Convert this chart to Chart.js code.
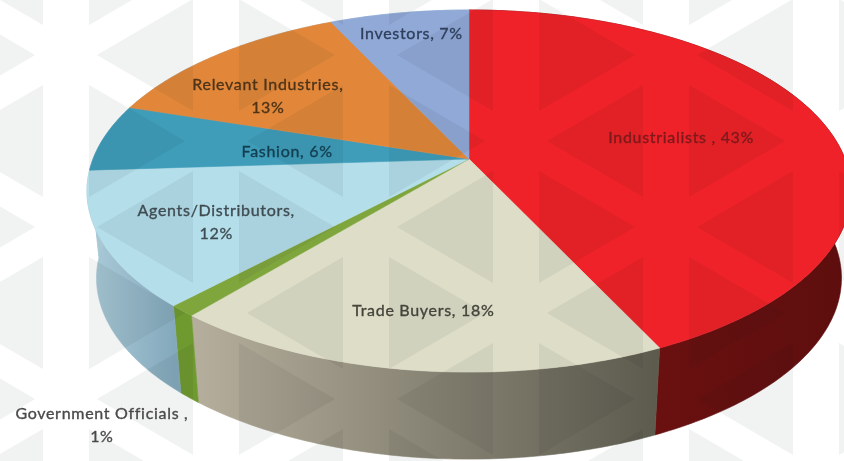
<!DOCTYPE html>
<html><head><meta charset="utf-8">
<style>html,body{margin:0;padding:0;background:#fff;overflow:hidden}canvas{display:block;filter:blur(0.5px)}</style>
<script src="https://cdn.jsdelivr.net/npm/chart.js@4"></script>
</head><body><canvas id="c" width="844" height="461"></canvas>
<script>
const categories = ["Industrialists","Trade Buyers","Government Officials","Agents/Distributors","Fashion","Relevant Industries","Investors"];
const shares = [43,18,1,12,6,13,7];
const labelLines = [["Industrialists , 43%"],["Trade Buyers, 18%"],["Government Officials ,","1%"],["Agents/Distributors,","12%"],["Fashion, 6%"],["Relevant Industries,","13%"],["Investors, 7%"]];
const topColors = ["#ee2228","#dedec8","#7fa63d","#b4deea","#3f9dba","#e2873a","#90a9d6"];
const wallColors = [["#6a1010","#5e0e0e"],["#b5ae9c","#5c5b4e"],["#6f9a30","#6f9a30"],["#a8c8d6","#84a9bc"],["#a8c8d6","#a8c8d6"],["#a8c8d6","#a8c8d6"],["#a8c8d6","#a8c8d6"]];
const textColors = ["#7c1a1c","#44443c","#4a4a4a","#3f4c52","#123f50","#4e3418","#2f3f5c"];
const labelOffsets = [[-3,1],[-14,35],[-205,181],[-39,16],[39,6],[-43,2],[-13,-32]];

// Perspective of the tilted pie: unit-circle point to page pixel
const AX = 469, AY = 159, RX = 376, RY = 175.4, PERSP = 0.177, DEPTH = 87, SHRINK = 0.975;
function project(u, v) {
  const d = 1 - PERSP * v;
  return [RX * u / d, RY * v / d];
}
function topPt(t, r = 1) { const p = project(r * Math.cos(t), r * Math.sin(t)); return [AX + p[0], AY + p[1]]; }
function botPt(t) { const p = project(Math.cos(t), Math.sin(t)); return [AX + p[0] * SHRINK, AY + p[1] + DEPTH]; }

function chevrons(ctx) {
  for (let i = -2; i <= 7; i++) for (let j = -2; j <= 6; j++) {
    if ((i + j) % 2 !== 0) continue;
    const sx = 66 + 150 * i, sy = 55 + 86 * j;
    [1, -1].forEach(s => {
      ctx.beginPath();
      ctx.moveTo(sx + s * 31, sy);
      ctx.lineTo(sx + s * 127, sy - 56);
      ctx.lineTo(sx + s * 127, sy + 56);
      ctx.closePath();
      ctx.fill();
    });
  }
}

const pie3d = {
  id: 'pie3d',
  beforeDraw(chart) {
    const c = chart.ctx; c.save(); c.fillStyle = '#fff'; c.fillRect(0, 0, 844, 461); c.restore();
  },
  beforeDatasetsDraw(chart) {
    const c = chart.ctx, arcs = chart.getDatasetMeta(0).data;
    c.save();
    c.lineJoin = 'round';
    // side wall
    arcs.forEach((a, k) => {
      const N = Math.max(6, Math.ceil((a.endAngle - a.startAngle) * 80));
      const g = c.createLinearGradient(k >= 3 ? 95 : k === 1 ? 195 : 656, 0, k >= 3 ? 175 : k === 1 ? 656 : 844, 0);
      g.addColorStop(0, wallColors[k][0]); g.addColorStop(1, wallColors[k][1]);
      c.fillStyle = g; c.strokeStyle = g; c.lineWidth = 0.6;
      c.beginPath();
      for (let n = 0; n <= N; n++) { const p = topPt(a.startAngle + (a.endAngle - a.startAngle) * n / N); n ? c.lineTo(p[0], p[1]) : c.moveTo(p[0], p[1]); }
      for (let n = N; n >= 0; n--) { const p = botPt(a.startAngle + (a.endAngle - a.startAngle) * n / N); c.lineTo(p[0], p[1]); }
      c.closePath(); c.fill(); c.stroke();
    });
    // top face
    arcs.forEach(a => {
      const N = Math.max(6, Math.ceil((a.endAngle - a.startAngle) * 80));
      c.fillStyle = a.options.backgroundColor; c.strokeStyle = a.options.backgroundColor; c.lineWidth = 0.6;
      c.beginPath(); c.moveTo(AX, AY);
      for (let n = 0; n <= N; n++) { const p = topPt(a.startAngle + (a.endAngle - a.startAngle) * n / N); c.lineTo(p[0], p[1]); }
      c.closePath(); c.fill(); c.stroke();
    });
    // watermark pattern over everything
    c.globalCompositeOperation = 'multiply';
    c.fillStyle = '#f1f2f2';
    chevrons(c);
    c.globalCompositeOperation = 'source-over';
    // labels
    c.textAlign = 'center'; c.textBaseline = 'middle';
    c.font = '16px Lato';
    c.letterSpacing = '0.7px';
    c.lineWidth = 0.35;
    arcs.forEach((a, k) => {
      const m = (a.startAngle + a.endAngle) / 2, p = topPt(m, 0.6);
      const x = p[0] + labelOffsets[k][0], y = p[1] + labelOffsets[k][1], ls = labelLines[k];
      c.fillStyle = textColors[k]; c.strokeStyle = textColors[k];
      ls.forEach((t, i) => {
        const ty = y + (i - (ls.length - 1) / 2) * 23;
        c.fillText(t, x, ty); c.strokeText(t, x, ty);
      });
    });
    c.restore();
    return false;
  }
};

new Chart(document.getElementById('c'), {
  type: 'pie',
  data: { labels: categories, datasets: [{ data: shares, backgroundColor: topColors, borderWidth: 0 }] },
  options: { responsive: false, animation: false, plugins: { legend: { display: false }, tooltip: { enabled: false } } },
  plugins: [pie3d]
});
</script></body></html>
